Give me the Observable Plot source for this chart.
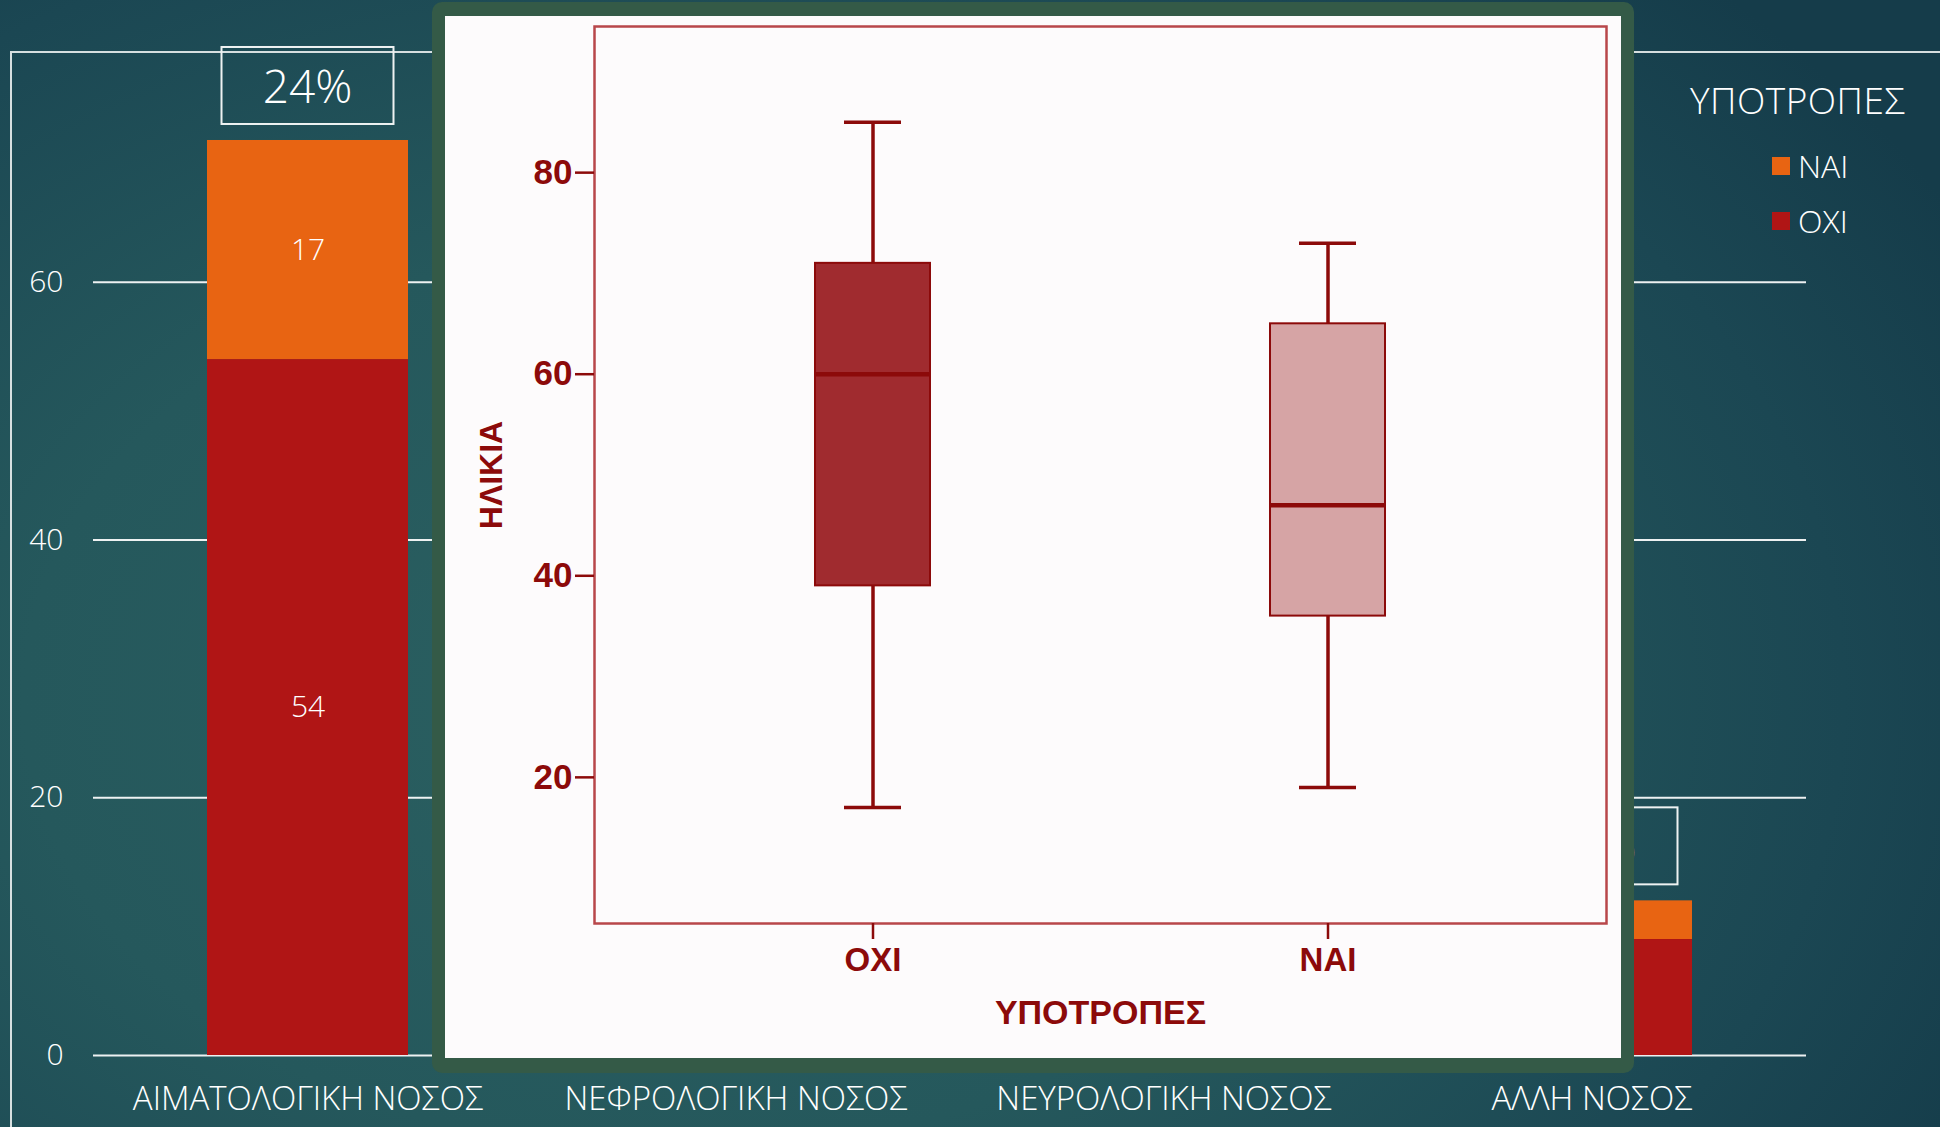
<!DOCTYPE html>
<html><head><meta charset="utf-8">
<script src="https://cdn.jsdelivr.net/npm/d3@7"></script>
<script src="https://cdn.jsdelivr.net/npm/@observablehq/plot@0.6"></script>
<style>
html,body{margin:0;padding:0;}
body{width:1940px;height:1127px;overflow:hidden;position:relative;
 background: radial-gradient(ellipse 75% 90% at 35% 62%, #2b6061 0%, #25585c 45%, #1b4753 80%, #153c4a 100%);
 font-family:"Open Sans",sans-serif;}
#frame{position:absolute;left:10px;top:51px;right:-4px;bottom:-4px;border-top:2px solid rgba(235,240,240,0.9);border-left:2px solid rgba(235,240,240,0.9);}
#bars{position:absolute;left:0;top:0;}
#legend{position:absolute;left:1680px;top:72px;color:#fff;font-weight:300;}
#legend .ttl{font-size:37px;line-height:56px;letter-spacing:0.5px;margin-left:10px;}
#legend .item{font-size:32px;line-height:55px;margin-left:92px;display:flex;align-items:center;}
#legend .item:first-of-type{margin-top:10px;}
#legend .sw{display:inline-block;width:18px;height:18px;margin-right:8px;}
#overlay{position:absolute;left:432px;top:2px;width:1202px;height:1071px;background:#345a47;border-radius:10px;}
#box{position:absolute;left:445px;top:16px;}
</style></head>
<body>
<div id="frame"></div>
<div id="bars"></div>
<div id="legend"></div>
<div id="overlay"></div>
<div id="box"></div>
<script>
// ---- background stacked bar chart ----
const categories = ["ΑΙΜΑΤΟΛΟΓΙΚΗ ΝΟΣΟΣ","ΝΕΦΡΟΛΟΓΙΚΗ ΝΟΣΟΣ","ΝΕΥΡΟΛΟΓΙΚΗ ΝΟΣΟΣ","ΑΛΛΗ ΝΟΣΟΣ"];
// the two middle categories are hidden under the inset picture
const visibleCategories = ["ΑΙΜΑΤΟΛΟΓΙΚΗ ΝΟΣΟΣ","ΑΛΛΗ ΝΟΣΟΣ"];
const oxiValues = [54, 9];
const naiValues = [17, 3];
const percentLabels = ["24%", "25%"];
const statusLabels = ["ΟΧΙ","ΝΑΙ"];
const statusColors = ["#b01515","#e86412"];
const yTicks = [0, 20, 40, 60];

// ---- inset box plot (age by relapse) ----
const relapseGroups = ["ΟΧΙ","ΝΑΙ"];
const ageMin = [17, 19];
const ageQ1 = [39, 36];
const ageMedian = [60, 47];
const ageQ3 = [71, 65];
const ageMax = [85, 73];
const ageTicks = [20, 40, 60, 80];
const boxFills = ["#a02b2f","#d6a4a5"];

const barRows = [];
visibleCategories.forEach((c,i)=>{
  barRows.push({cat:c, status:statusLabels[0], value:oxiValues[i]});
  barRows.push({cat:c, status:statusLabels[1], value:naiValues[i]});
});

const bars = Plot.plot({
  width:1940, height:1127,
  marginLeft:93, marginRight:134, marginTop:24, marginBottom:72,
  style:{background:"transparent", color:"white", fontFamily:"'Open Sans', sans-serif", fontWeight:300, overflow:"visible"},
  x:{domain:categories, type:"band", paddingInner:0.53, paddingOuter:0.265, label:null},
  y:{domain:[0,80], label:null},
  color:{domain:statusLabels, range:statusColors},
  marks:[
    Plot.ruleY(yTicks, {stroke:"white", strokeWidth:2, strokeOpacity:0.92}),
    Plot.barY(barRows, Plot.stackY({x:"cat", y:"value", fill:"status", z:"status", order:statusLabels})),
    Plot.text(barRows, Plot.stackY({x:"cat", y:"value", z:"status", text:"value", order:statusLabels, fill:"white", fontSize:30, fontWeight:300})),
    Plot.axisY({ticks:yTicks, tickSize:0, tickPadding:30, fontSize:30, label:null}),
    Plot.axisX({tickSize:0, tickPadding:31, fontSize:33, label:null})
  ]
});
document.getElementById("bars").appendChild(bars);

// percentage boxes above each visible bar
const xs = bars.scale("x"), ys = bars.scale("y");
const bsvg = d3.select(bars);
visibleCategories.forEach((c,i)=>{
  const total = oxiValues[i] + naiValues[i];
  const cx = xs.apply(c) + xs.bandwidth/2;
  const bottom = ys.apply(total) - 16;
  bsvg.append("rect").attr("x", cx-86).attr("y", bottom-77).attr("width",172).attr("height",77)
    .attr("fill","none").attr("stroke","#eef2f2").attr("stroke-width",2);
  bsvg.append("text").attr("x", cx).attr("y", bottom-38).attr("text-anchor","middle").attr("dy","0.36em")
    .attr("font-size",46).attr("font-weight",300).attr("fill","white").text(percentLabels[i]);
});

// legend
const legend = document.getElementById("legend");
const ttl = document.createElement("div"); ttl.className="ttl"; ttl.textContent="ΥΠΟΤΡΟΠΕΣ"; legend.appendChild(ttl);
[1,0].forEach((k,j)=>{
  const it = document.createElement("div"); it.className="item";
  if (j===0) it.style.marginTop="10px";
  const sw = document.createElement("span"); sw.className="sw"; sw.style.background=statusColors[k];
  it.appendChild(sw); it.appendChild(document.createTextNode(statusLabels[k]));
  legend.appendChild(it);
});

// ---- inset box plot ----
const boxRows = relapseGroups.map((g,i)=>({group:g, min:ageMin[i], q1:ageQ1[i], median:ageMedian[i], q3:ageQ3[i], max:ageMax[i]}));
const dark = "#8c0a0a";
const boxPlot = Plot.plot({
  width:1176, height:1042,
  marginLeft:149, marginRight:15, marginTop:10, marginBottom:135,
  style:{background:"#fdfbfc", color:dark, fontFamily:"'Liberation Sans', Arial, sans-serif", fontWeight:"bold"},
  x:{domain:relapseGroups, type:"band", paddingInner:0.748, paddingOuter:0.484, label:null},
  y:{domain:[5.5,94.5], label:null},
  color:{domain:relapseGroups, range:boxFills},
  marks:[
    Plot.frame({stroke:"#b8474a", strokeWidth:2.5}),
    Plot.ruleX(boxRows, {x:"group", y1:"min", y2:"max", stroke:dark, strokeWidth:3.5}),
    Plot.barY(boxRows, {x:"group", y1:"q1", y2:"q3", fill:"group", stroke:dark, strokeWidth:2}),
    Plot.tickY(boxRows, {x:"group", y:"median", stroke:dark, strokeWidth:4.5}),
    Plot.tickY(boxRows, {x:"group", y:"min", stroke:dark, strokeWidth:3.5, insetLeft:29, insetRight:29}),
    Plot.tickY(boxRows, {x:"group", y:"max", stroke:dark, strokeWidth:3.5, insetLeft:29, insetRight:29}),
    Plot.axisY({ticks:ageTicks, tickSize:19, tickPadding:3, fontSize:35, fontWeight:"bold", strokeWidth:2.5, label:null}),
    Plot.axisX({tickSize:16, tickPadding:8, fontSize:33, fontWeight:"bold", strokeWidth:2.5, label:null}),
    Plot.text(["ΥΠΟΤΡΟΠΕΣ"], {frameAnchor:"bottom", dy:100, fontSize:34, fontWeight:"bold", fill:dark}),
    Plot.text(["ΗΛΙΚΙΑ"], {frameAnchor:"left", textAnchor:"middle", rotate:-90, dx:-103, fontSize:32, fontWeight:"bold", fill:dark})
  ]
});
document.getElementById("box").appendChild(boxPlot);
</script>
</body></html>
